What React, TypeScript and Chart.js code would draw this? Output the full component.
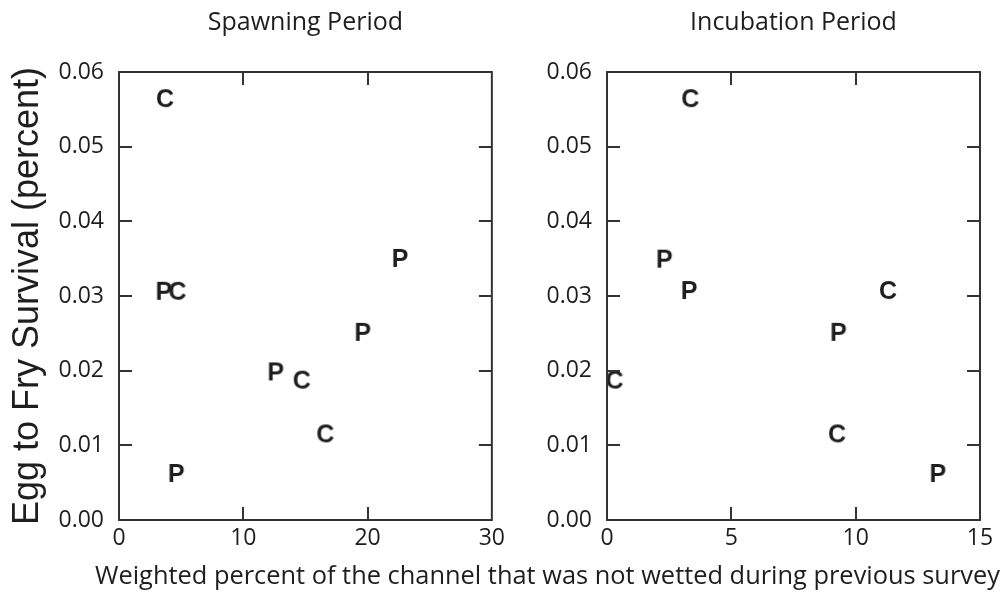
import React, { useEffect, useRef } from "react";
import { Chart, registerables } from "chart.js";

Chart.register(...registerables);

// ---- Data ----
const panelTitles = ["Spawning Period", "Incubation Period"];
const yTitle = "Egg to Fry Survival (percent)";
const xTitle = "Weighted percent of the channel that was not wetted during previous survey";

const yTicks = [0, 0.01, 0.02, 0.03, 0.04, 0.05, 0.06];
const spawnXTicks = [0, 10, 20, 30];
const incubXTicks = [0, 5, 10, 15];

// Spawning period: P and C labelled points
const spawnPx = [3.6, 22.6, 19.6, 12.6, 4.6];
const spawnPy = [0.0307, 0.0351, 0.0252, 0.0199, 0.0063];
const spawnCx = [3.7, 4.7, 14.7, 16.6];
const spawnCy = [0.0565, 0.0307, 0.0188, 0.0116];

// Incubation period
const incubPx = [2.3, 3.3, 9.3, 13.3];
const incubPy = [0.035, 0.0308, 0.0252, 0.0063];
const incubCx = [3.35, 11.3, 0.3, 9.25];
const incubCy = [0.0565, 0.0308, 0.0188, 0.0116];

const INK = "#1e1e1e";
const FRAME = "#333333";
const TICK_FONT = { family: '"Open Sans", sans-serif', size: 23 };

function letterImage(ch: string): HTMLCanvasElement {
  const c = document.createElement("canvas");
  c.width = 34;
  c.height = 34;
  const ctx = c.getContext("2d")!;
  ctx.fillStyle = INK;
  ctx.font = 'bold 25px "Liberation Sans", Arial, sans-serif';
  ctx.textAlign = "center";
  ctx.textBaseline = "alphabetic";
  ctx.fillText(ch, 17, 17 + (0.716 * 25) / 2);
  return c;
}

const zip = (xs: number[], ys: number[]) => xs.map((x, i) => ({ x, y: ys[i] }));

const frameTicks = {
  id: "frameTicks",
  afterDraw(chart: any) {
    const { ctx, chartArea: a, scales } = chart;
    const xs = scales.x;
    const ys = scales.y;
    const L = 13;
    ctx.save();
    ctx.strokeStyle = FRAME;
    ctx.lineWidth = 2;
    ctx.strokeRect(a.left, a.top, a.right - a.left, a.bottom - a.top);
    ctx.beginPath();
    ys.ticks.forEach((t: any) => {
      if (t.value <= ys.min + 1e-9 || t.value >= ys.max - 1e-9) return;
      const py = Math.round(ys.getPixelForValue(t.value));
      ctx.moveTo(a.left, py);
      ctx.lineTo(a.left + L, py);
      ctx.moveTo(a.right, py);
      ctx.lineTo(a.right - L, py);
    });
    xs.ticks.forEach((t: any) => {
      if (t.value <= xs.min + 1e-9 || t.value >= xs.max - 1e-9) return;
      const px = Math.round(xs.getPixelForValue(t.value));
      ctx.moveTo(px, a.top);
      ctx.lineTo(px, a.top + L);
      ctx.moveTo(px, a.bottom);
      ctx.lineTo(px, a.bottom - L);
    });
    ctx.stroke();
    ctx.restore();
  },
};

function makeConfig(opts: {
  title: string;
  xTicks: number[];
  P: { x: number; y: number }[];
  C: { x: number; y: number }[];
  yWidth: number;
  padRight: number;
  showYTitle: boolean;
  canvasH: number;
  pImg: HTMLCanvasElement;
  cImg: HTMLCanvasElement;
}): any {
  const xMin = opts.xTicks[0];
  const xMax = opts.xTicks[opts.xTicks.length - 1];
  const step = opts.xTicks[1] - opts.xTicks[0];
  return {
    type: "scatter",
    data: {
      datasets: [
        { label: "P", data: opts.P, pointStyle: opts.pImg, pointRadius: 12, clip: false },
        { label: "C", data: opts.C, pointStyle: opts.cImg, pointRadius: 12, clip: false },
      ],
    },
    options: {
      animation: false,
      responsive: false,
      events: [],
      layout: { padding: { left: 0, right: opts.padRight, top: 0, bottom: 0 } },
      plugins: {
        legend: { display: false },
        tooltip: { enabled: false },
        title: {
          display: true,
          fullSize: false,
          text: opts.title,
          color: INK,
          font: { family: '"Open Sans", sans-serif', size: 25, lineHeight: 1, weight: "normal" },
          padding: { top: 10, bottom: 37 },
        },
      },
      scales: {
        x: {
          type: "linear",
          min: xMin,
          max: xMax,
          grid: { display: false, drawTicks: false },
          border: { display: false },
          afterBuildTicks: (s: any) => {
            s.ticks = opts.xTicks.map((v) => ({ value: v }));
          },
          ticks: { stepSize: step, color: INK, font: TICK_FONT, padding: 5, maxRotation: 0 },
          afterFit: (s: any) => {
            s.height = opts.canvasH - 520;
          },
        },
        y: {
          type: "linear",
          min: 0,
          max: 0.06,
          grid: { display: false, drawTicks: false },
          border: { display: false },
          afterBuildTicks: (s: any) => {
            s.ticks = yTicks.map((v) => ({ value: v }));
          },
          ticks: {
            color: INK,
            font: TICK_FONT,
            padding: 15,
            callback: (v: any) => Number(v).toFixed(2),
          },
          title: {
            display: opts.showYTitle,
            text: yTitle,
            color: INK,
            font: { family: '"Liberation Sans", Arial, sans-serif', size: 36, lineHeight: 1 },
            padding: { top: 10, bottom: 0 },
          },
          afterFit: (s: any) => {
            s.width = opts.yWidth;
          },
        },
      },
    },
    plugins: [frameTicks],
  };
}

export default function App() {
  const ref1 = useRef<HTMLCanvasElement>(null);
  const ref2 = useRef<HTMLCanvasElement>(null);

  useEffect(() => {
    const pImg = letterImage("P");
    const cImg = letterImage("C");
    const c1 = new Chart(
      ref1.current!,
      makeConfig({
        title: panelTitles[0],
        xTicks: spawnXTicks,
        P: zip(spawnPx, spawnPy),
        C: zip(spawnCx, spawnCy),
        yWidth: 119,
        padRight: 18,
        showYTitle: true,
        canvasH: 560,
        pImg,
        cImg,
      })
    );
    const c2 = new Chart(
      ref2.current!,
      makeConfig({
        title: panelTitles[1],
        xTicks: incubXTicks,
        P: zip(incubPx, incubPy),
        C: zip(incubCx, incubCy),
        yWidth: 97,
        padRight: 24,
        showYTitle: false,
        canvasH: 560,
        pImg,
        cImg,
      })
    );
    return () => {
      c1.destroy();
      c2.destroy();
    };
  }, []);

  return (
    <div
      style={{
        position: "fixed",
        left: 0,
        top: 0,
        width: 1004,
        height: 602,
        background: "#ffffff",
        overflow: "hidden",
      }}
    >
      <canvas ref={ref1} width={510} height={560} style={{ position: "absolute", left: 0, top: 0 }} />
      <canvas ref={ref2} width={494} height={560} style={{ position: "absolute", left: 510, top: 0 }} />
      <div
        style={{
          position: "absolute",
          left: 0,
          width: 1095,
          top: 559,
          textAlign: "center",
          fontFamily: '"Open Sans", sans-serif',
          fontSize: 25.4,
          lineHeight: "30px",
          color: INK,
          whiteSpace: "nowrap",
        }}
      >
        {xTitle}
      </div>
    </div>
  );
}
